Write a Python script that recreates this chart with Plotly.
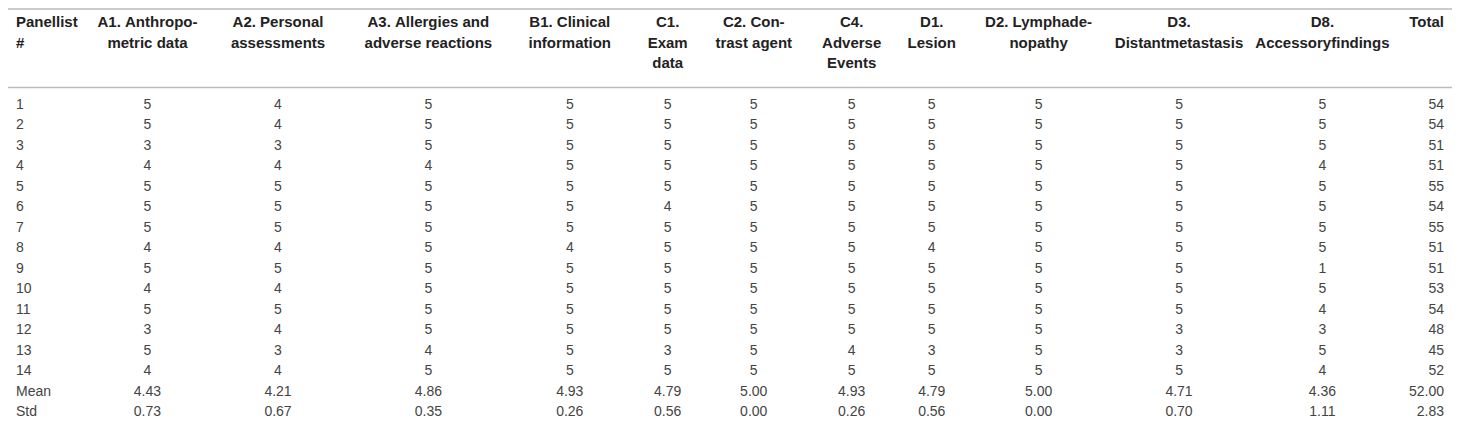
import plotly.graph_objects as go

# column headers, one entry per header line
headers = [
    ["Panellist", "#", ""],
    ["A1. Anthropo-", "metric data", ""],
    ["A2. Personal", "assessments", ""],
    ["A3. Allergies and", "adverse reactions", ""],
    ["B1. Clinical", "information", ""],
    ["C1.", "Exam", "data"],
    ["C2. Con-", "trast agent", ""],
    ["C4.", "Adverse", "Events"],
    ["D1.", "Lesion", ""],
    ["D2. Lymphade-", "nopathy", ""],
    ["D3.", "Distantmetastasis", ""],
    ["D8.", "Accessoryfindings", ""],
    ["Total", "", ""],
]

panellist = ["1", "2", "3", "4", "5", "6", "7", "8", "9", "10", "11", "12", "13", "14", "Mean", "Std"]
a1 = ["5", "5", "3", "4", "5", "5", "5", "4", "5", "4", "5", "3", "5", "4", "4.43", "0.73"]
a2 = ["4", "4", "3", "4", "5", "5", "5", "4", "5", "4", "5", "4", "3", "4", "4.21", "0.67"]
a3 = ["5", "5", "5", "4", "5", "5", "5", "5", "5", "5", "5", "5", "4", "5", "4.86", "0.35"]
b1 = ["5", "5", "5", "5", "5", "5", "5", "4", "5", "5", "5", "5", "5", "5", "4.93", "0.26"]
c1 = ["5", "5", "5", "5", "5", "4", "5", "5", "5", "5", "5", "5", "3", "5", "4.79", "0.56"]
c2 = ["5", "5", "5", "5", "5", "5", "5", "5", "5", "5", "5", "5", "5", "5", "5.00", "0.00"]
c4 = ["5", "5", "5", "5", "5", "5", "5", "5", "5", "5", "5", "5", "4", "5", "4.93", "0.26"]
d1 = ["5", "5", "5", "5", "5", "5", "5", "4", "5", "5", "5", "5", "3", "5", "4.79", "0.56"]
d2 = ["5", "5", "5", "5", "5", "5", "5", "5", "5", "5", "5", "5", "5", "5", "5.00", "0.00"]
d3 = ["5", "5", "5", "5", "5", "5", "5", "5", "5", "5", "5", "3", "3", "5", "4.71", "0.70"]
d8 = ["5", "5", "5", "4", "5", "5", "5", "5", "1", "5", "4", "3", "5", "4", "4.36", "1.11"]
total = ["54", "54", "51", "51", "55", "54", "55", "51", "51", "53", "54", "48", "45", "52", "52.00", "2.83"]

columns = [panellist, a1, a2, a3, b1, c1, c2, c4, d1, d2, d3, d8, total]
col_widths = [80, 122, 142, 162, 124, 74, 100, 98, 64, 152, 132, 158, 52]
aligns = ["left"] + ["center"] * 11 + ["right"]

# non-breaking spaces keep plotly from re-wrapping / growing the header rows
header_vals = [[s.replace(" ", "\u00a0") for s in h] + [""] for h in headers]

clear = "rgba(0,0,0,0)"
fig = go.Figure(go.Table(
    columnwidth=col_widths,
    header=dict(values=header_vals, align=aligns, height=20.5,
                fill_color=clear, line_color=clear, line_width=0,
                font=dict(family="Liberation Sans, Arial", size=15, color="#222222",
                          weight="bold")),
    cells=dict(values=columns, align=aligns, height=20.5,
               fill_color=clear, line_color=clear, line_width=0,
               font=dict(family="Liberation Sans, Arial", size=14, color="#444444")),
    domain=dict(x=[0, 1], y=[0, 1]),
))

# horizontal rules: top of table and under the header
for yy in [1 - 1 / 427, 1 - 82.5 / 427]:
    fig.add_shape(type="line", xref="paper", yref="paper", x0=0, x1=1, y0=yy, y1=yy,
                  line=dict(color="#bbbbbb", width=1.5))

fig.update_layout(margin=dict(l=0, r=0, t=0, b=0), paper_bgcolor="white",
                  plot_bgcolor="white")

fig.write_html("out.html")
